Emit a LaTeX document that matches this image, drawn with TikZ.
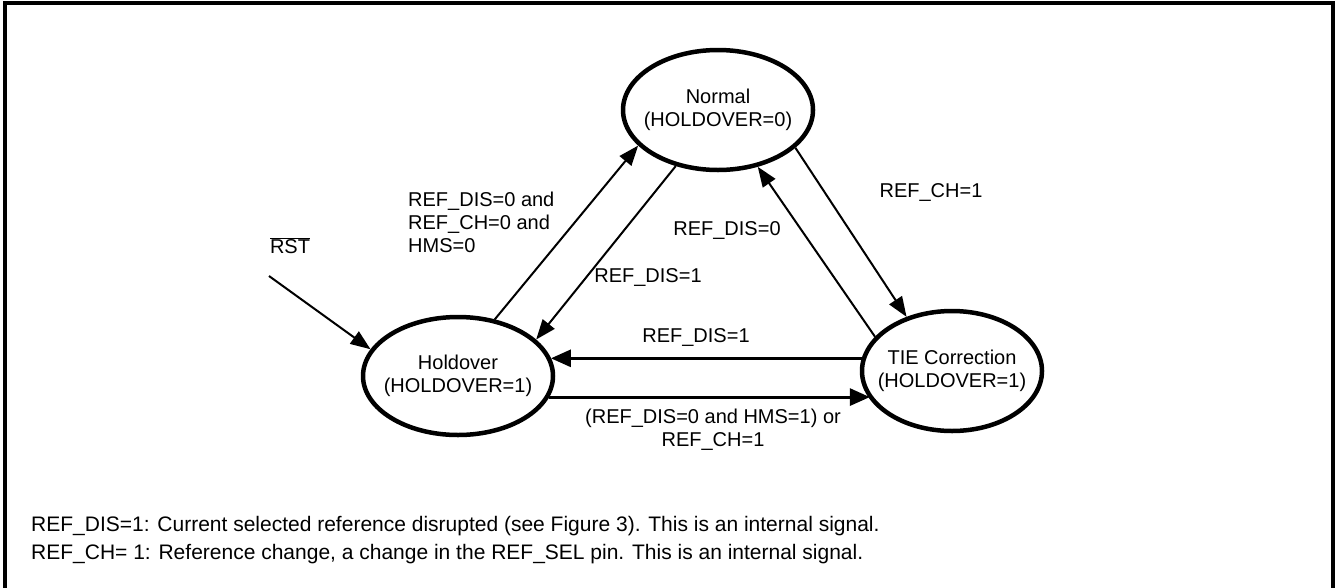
\documentclass[tikz,border=0pt]{standalone}
\usepackage{fontspec}
\setmainfont{Liberation Sans}
\usetikzlibrary{arrows.meta,shapes.geometric}
\begin{document}
\begin{tikzpicture}[x=1pt,y=-1pt,
  state/.style={ellipse,draw,line width=4.5pt,inner sep=0pt},
  lbl/.style={font=\fontsize{20}{23}\selectfont,align=center,inner sep=0pt},
  ftxt/.style={font=\fontsize{21}{23}\selectfont,anchor=west,inner sep=0pt},
  arr/.style={line width=2pt,-{Triangle[length=20pt,width=15pt]}},
  harr/.style={arr,line width=3pt,-{Triangle[length=20pt,width=17pt]}},
  ]
\useasboundingbox (0,0) rectangle (1336,587);
\draw[line width=3.5pt] (5,590) -- (5,3) -- (1333,3) -- (1333,590);

\node[state,minimum width=190pt,minimum height=120pt,label={[lbl]center:Normal\\(HOLDOVER=0)}] (norm) at (718,110) {};
\node[state,minimum width=190pt,minimum height=118pt,label={[lbl]center:Holdover\\(HOLDOVER=1)}] (hold) at (458,376) {};
\node[state,minimum width=180pt,minimum height=120pt,label={[lbl]center:TIE Correction\\(HOLDOVER=1)}] (tie) at (952,371) {};

\node[lbl] (rst) at (290,246) {$\overline{\mbox{RST}}$};
\coordinate (rsts) at (269,276);
\draw[arr] (rsts) -- (hold.163);

\node[lbl,anchor=west,align=left] (l1) at (408,222) {REF\_DIS=0 and\\REF\_CH=0 and\\HMS=0};
\node[lbl] (l2) at (648,277) {REF\_DIS=1};
\node[lbl] (l3) at (727,230) {REF\_DIS=0};
\node[lbl] (l4) at (931,192) {REF\_CH=1};
\node[lbl] (l5) at (696,337) {REF\_DIS=1};
\node[lbl] (l6) at (713,430) {(REF\_DIS=0 and HMS=1) or\\REF\_CH=1};

\draw[arr] (hold.57) -- (norm.204);
\draw[arr] (norm.233) -- (hold.25);
\draw[arr] (tie.156) -- (norm.305);
\draw[arr] (norm.334) -- (tie.130);
\draw[harr] (tie.172) -- (tie.172 -| hold.11.5);
\draw[harr] (hold.-13) -- (hold.-13 -| tie.199);

\node[ftxt] (f1) at (31,526) {REF\_DIS=1: Current selected reference disrupted (see Figure 3). This is an internal signal.};
\node[ftxt] (f2) at (31,554) {REF\_CH= 1: Reference change, a change in the REF\_SEL pin. This is an internal signal.};
\end{tikzpicture}
\end{document}
